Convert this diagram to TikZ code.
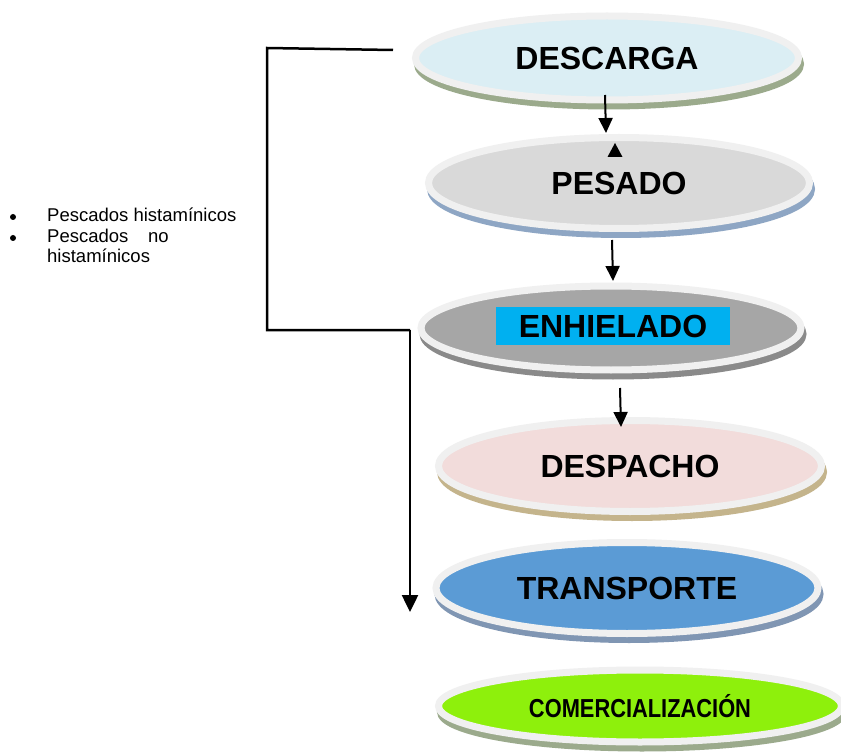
\documentclass[tikz,border=0pt]{standalone}
\usepackage{fontspec}
\setmainfont{Liberation Sans}
\usetikzlibrary{shapes.geometric,shadows,arrows.meta}
\definecolor{rim}{HTML}{F0F0F0}
\definecolor{descfill}{HTML}{DBEEF4}
\definecolor{descsh}{HTML}{9BAA8C}
\definecolor{pesfill}{HTML}{D9D9D9}
\definecolor{pessh}{HTML}{8EA6C4}
\definecolor{enhfill}{HTML}{A6A6A6}
\definecolor{enhsh}{HTML}{8A8A8A}
\definecolor{enhbox}{HTML}{00B0F0}
\definecolor{despfill}{HTML}{F2DCDB}
\definecolor{despsh}{HTML}{C4B48C}
\definecolor{transfill}{HTML}{5B9BD5}
\definecolor{transsh}{HTML}{8096B3}
\definecolor{comfill}{HTML}{8EF00C}
\definecolor{comsh}{HTML}{9BAA8C}
\tikzset{
  stage/.style 2 args={ellipse, inner sep=0pt, draw=rim, line width=7pt, fill=#1,
    drop shadow={shadow xshift=2pt, shadow yshift=-6pt, fill=#2, draw=#2, line width=7pt, opacity=1},
    font=\fontsize{32}{36}\selectfont\bfseries},
  flow/.style={line width=2pt, -{Triangle[length=15pt,width=14pt]}},
  brk/.style={line width=2.5pt},
  bul/.style={anchor=base west, inner sep=0pt, font=\fontsize{18.5}{21}\selectfont}
}
\begin{document}
\begin{tikzpicture}[x=1pt,y=-1pt]
\useasboundingbox[fill=white] (0,0) rectangle (841,754);
% stages
\node[stage={descfill}{descsh}, minimum width=383pt, minimum height=84pt] (desc) at (607,58) {DESCARGA};
\node[stage={pesfill}{pessh}, minimum width=381pt, minimum height=91pt] (pes) at (619,183) {PESADO};
\node[stage={enhfill}{enhsh}, minimum width=380pt, minimum height=84pt] (enh) at (611,328) {};
\node[fill=enhbox, minimum width=234pt, minimum height=38pt, inner sep=0pt,
  font=\fontsize{32}{36}\selectfont\bfseries] (enhlab) at (613,326) {ENHIELADO};
\node[stage={despfill}{despsh}, minimum width=383pt, minimum height=91pt] (desp) at (630,466) {DESPACHO};
\node[stage={transfill}{transsh}, minimum width=382pt, minimum height=91pt] (trans) at (627,588) {TRANSPORTE};
\node[stage={comfill}{comsh}, minimum width=403pt, minimum height=72pt,
  font=\fontsize{26}{29}\selectfont\bfseries] (com) at (640,706) {\scalebox{0.84}[1]{COMERCIALIZACIÓN}};
% flow arrows
\coordinate (a1s) at (605,95);  \coordinate (a1e) at (606,133);
\coordinate (a2s) at (612,240); \coordinate (a2e) at (613,281);
\coordinate (a3s) at (620,388); \coordinate (a3e) at (621,427);
\draw[flow] (a1s) -- (a1e);
\draw[flow] (a2s) -- (a2e);
\draw[flow] (a3s) -- (a3e);
% small upward triangle
\coordinate (t1) at (615,143);
\fill (t1) -- ++(-7.5,14) -- ++(15,0) -- cycle;
% bracket
\coordinate (br0) at (393,50);
\coordinate (br1) at (267,48);
\coordinate (br2) at (267,330);
\coordinate (br3) at (410,330);
\coordinate (br4) at (410,612);
\draw[brk] (br0) -- (br1) -- (br2) -- (br3);
\draw[brk, -{Triangle[length=17pt,width=16pt]}] (br3) -- (br4);
% bullet list
\fill (13,217) circle (3pt);
\fill (13,238) circle (3pt);
\node[bul] (l1) at (47,222) {Pescados histamínicos};
\node[bul] (l2a) at (47,243) {Pescados};
\node[bul] (l2b) at (148,243) {no};
\node[bul] (l3) at (47,263) {histamínicos};
\end{tikzpicture}
\end{document}
